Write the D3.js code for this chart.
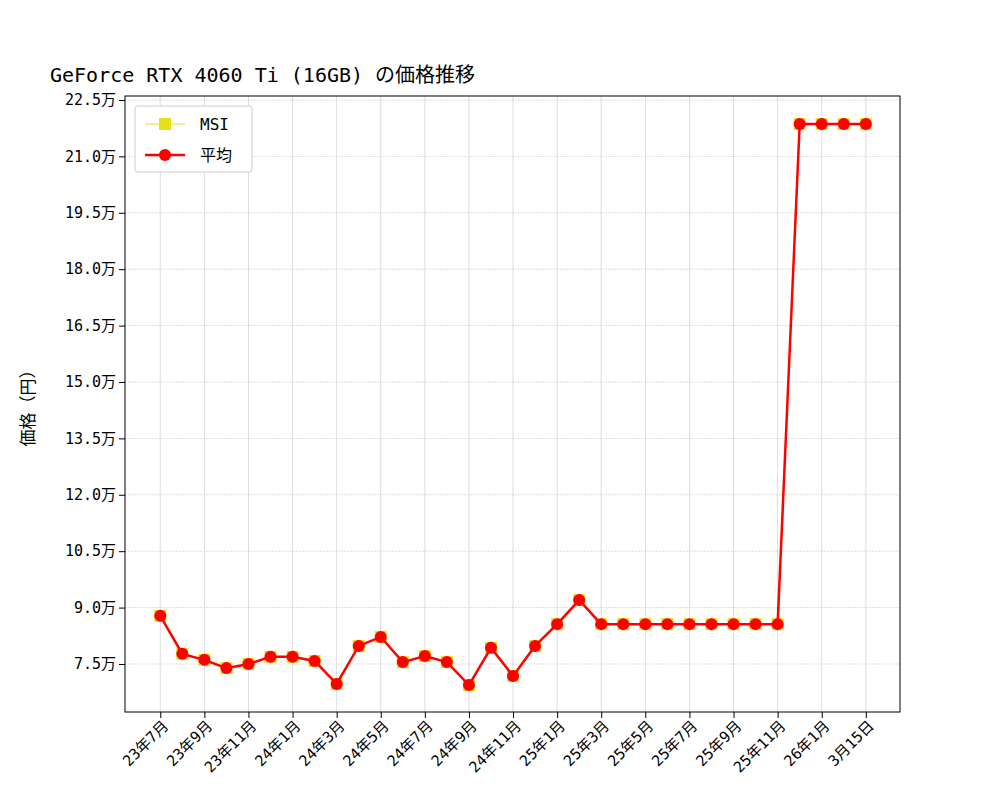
<!DOCTYPE html>
<html><head><meta charset="utf-8">
<script src="https://cdn.jsdelivr.net/npm/d3@7"></script>
<style>body{margin:0;background:#fff}text{font-family:"DejaVu Sans Mono","Noto Sans CJK JP",monospace}</style>
</head><body><svg id="c" width="1000" height="800"></svg>
<script>
const tickLabels=["23年7月","23年9月","23年11月","24年1月","24年3月","24年5月","24年7月","24年9月","24年11月","25年1月","25年3月","25年5月","25年7月","25年9月","25年11月","26年1月","3月15日"];
const msi=[87800,77700,76100,73900,75000,76900,76900,75800,69700,79800,82200,75500,77100,75500,69400,79300,71800,79800,85600,92000,85600,85600,85600,85600,85600,85600,85600,85600,85600,218600,218600,218600,218600];
const avg=msi.slice();
const yTicks=d3.range(75000,225001,15000);

const svg=d3.select("#c");
const L=125,R=900,T=96,B=712;
const x=d3.scaleLinear().domain([-1.6,33.55]).range([L,R]);
const y=d3.scaleLinear().domain([62230,226060]).range([B,T]);
const g=svg.append("g");
g.selectAll(".gx").data(tickLabels).join("line").attr("x1",(d,i)=>x(i*2)).attr("x2",(d,i)=>x(i*2)).attr("y1",T).attr("y2",B).attr("stroke","#b0b0b0").attr("stroke-width",0.6).attr("opacity",0.7);
g.selectAll(".gy").data(yTicks).join("line").attr("x1",L).attr("x2",R).attr("y1",d=>y(d)).attr("y2",d=>y(d)).attr("stroke","#b0b0b0").attr("stroke-width",0.6).attr("stroke-dasharray","2,1").attr("opacity",0.7);
const xa=svg.append("g").attr("transform",`translate(0,${B})`).call(d3.axisBottom(x).tickValues(tickLabels.map((d,i)=>i*2)).tickFormat((d,i)=>tickLabels[i]).tickSizeOuter(0));
xa.selectAll("text").attr("font-size",15).attr("fill","#000").attr("text-anchor","end").attr("transform","rotate(-45)").attr("dx","-0.3em").attr("dy","0.5em");
const ya=svg.append("g").attr("transform",`translate(${L},0)`).call(d3.axisLeft(y).tickValues(yTicks).tickFormat(d=>(d/10000).toFixed(1)+"万").tickSizeOuter(0));
ya.selectAll("text").attr("font-size",15).attr("fill","#000");
svg.selectAll(".domain").remove();
svg.append("rect").attr("x",L).attr("y",T).attr("width",R-L).attr("height",B-T).attr("fill","none").attr("stroke","#000");
const line=d3.line().x((d,i)=>x(i)).y(d=>y(d));
svg.append("path").datum(msi).attr("d",line).attr("fill","none").attr("stroke","#e6e01a").attr("stroke-width",1.2);
svg.selectAll(".ms").data(msi).join("rect").attr("x",(d,i)=>x(i)-6).attr("y",d=>y(d)-6).attr("width",12).attr("height",12).attr("fill","#e6e01a");
svg.append("path").datum(avg).attr("d",line).attr("fill","none").attr("stroke","#f00").attr("stroke-width",2.5);
svg.selectAll(".av").data(avg).join("circle").attr("cx",(d,i)=>x(i)).attr("cy",d=>y(d)).attr("r",6).attr("fill","#f00");
svg.append("text").attr("x",50).attr("y",82).attr("font-size",20).text("GeForce RTX 4060 Ti (16GB) の価格推移");
svg.append("text").attr("transform","translate(34,404) rotate(-90)").attr("text-anchor","middle").attr("font-size",17).text("価格（円）");
const lg=svg.append("g");
lg.append("rect").attr("x",135).attr("y",106).attr("width",117).attr("height",66).attr("rx",3).attr("fill","#fff").attr("stroke","#ccc");
lg.append("line").attr("x1",145).attr("x2",185).attr("y1",124).attr("y2",124).attr("stroke","#e6e01a").attr("stroke-width",1.2);
lg.append("rect").attr("x",159).attr("y",118).attr("width",12).attr("height",12).attr("fill","#e6e01a");
lg.append("text").attr("x",200).attr("y",130).attr("font-size",16).text("MSI");
lg.append("line").attr("x1",145).attr("x2",185).attr("y1",155).attr("y2",155).attr("stroke","#f00").attr("stroke-width",2.5);
lg.append("circle").attr("cx",165).attr("cy",155).attr("r",6).attr("fill","#f00");
lg.append("text").attr("x",200).attr("y",161).attr("font-size",16).text("平均");
</script></body></html>
